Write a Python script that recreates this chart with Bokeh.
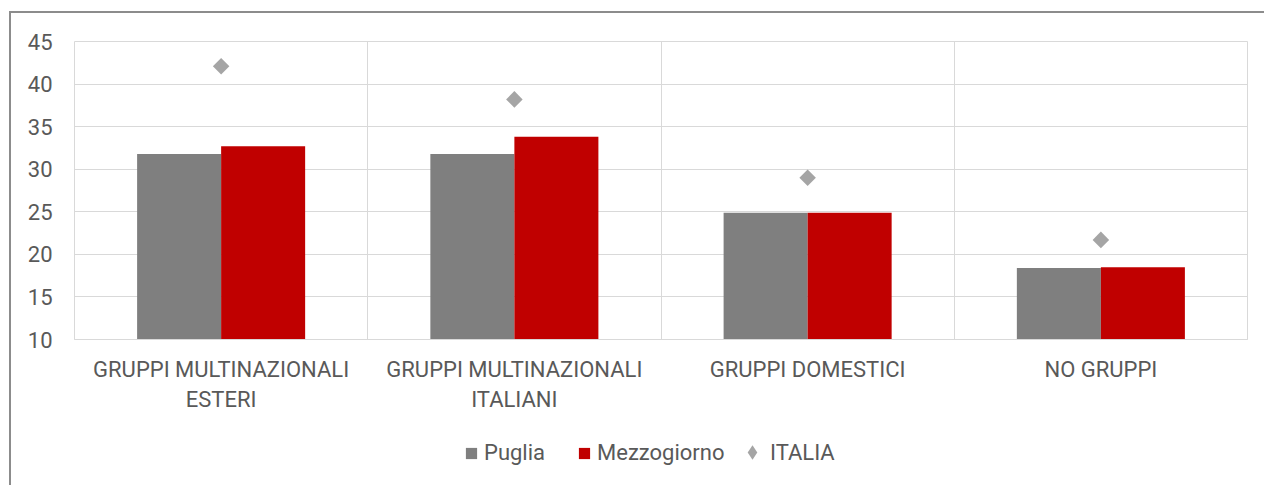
from bokeh.plotting import figure
from bokeh.models import Range1d, FixedTicker, Legend, LegendItem
from bokeh.layouts import column
from bokeh.embed import file_html
from bokeh.resources import INLINE
import numpy as np

categories = ["GRUPPI MULTINAZIONALI\nESTERI", "GRUPPI MULTINAZIONALI\nITALIANI",
              "GRUPPI DOMESTICI", "NO GRUPPI"]
series = ["Puglia", "Mezzogiorno", "ITALIA"]
puglia = [31.8, 31.8, 24.9, 18.4]
mezzogiorno = [32.7, 33.8, 24.9, 18.5]
italia = [42.1, 38.2, 29.0, 21.7]
y_ticks = [10, 15, 20, 25, 30, 35, 40, 45]

FONT = "Roboto"
TXT = "#595959"
GRID = "#d9d9d9"
C_PUG = "#7f7f7f"
C_MEZ = "#c00000"
C_ITA = "#a5a5a5"

n = len(categories)
centers = [i + 0.5 for i in range(n)]
bw = 0.2865

p = figure(width=1253, height=417, x_range=Range1d(0, n), y_range=Range1d(10, 45),
           output_backend="svg", toolbar_location=None,
           min_border_left=63, min_border_right=17, min_border_top=28, min_border_bottom=91)

p.vbar(x=[c - bw / 2 for c in centers], top=puglia, bottom=10, width=bw,
       fill_color=C_PUG, line_color=None)
p.vbar(x=[c + bw / 2 for c in centers], top=mezzogiorno, bottom=10, width=bw,
       fill_color=C_MEZ, line_color=None)
p.scatter(x=centers, y=italia, marker="square", size=11.7, angle=np.pi / 4,
          fill_color=C_ITA, line_color=None)

p.outline_line_color = GRID
p.background_fill_color = "white"
p.border_fill_color = "white"

p.yaxis.ticker = FixedTicker(ticks=y_ticks)
p.yaxis.axis_line_color = None
p.yaxis.major_tick_line_color = None
p.yaxis.minor_tick_line_color = None
p.yaxis.major_label_text_font = FONT
p.yaxis.major_label_text_font_size = "22px"
p.yaxis.major_label_text_color = TXT
p.yaxis.major_label_standoff = 16

p.xaxis.ticker = FixedTicker(ticks=centers)
p.xaxis.major_label_overrides = {c: lab for c, lab in zip(centers, categories)}
p.xaxis.axis_line_color = GRID
p.xaxis.major_tick_line_color = None
p.xaxis.minor_tick_line_color = None
p.xaxis.major_label_text_font = FONT
p.xaxis.major_label_text_font_size = "22px"
p.xaxis.major_label_text_color = TXT
p.xaxis.major_label_text_line_height = 1.2
p.xaxis.major_label_standoff = 11

p.xgrid.ticker = FixedTicker(ticks=list(range(n + 1)))
p.xgrid.grid_line_color = GRID
p.ygrid.grid_line_color = GRID

# legend strip: a separate figure whose hidden renderers carry the legend styling
pl = figure(width=1253, height=55, x_range=Range1d(0, n), y_range=Range1d(10, 45),
            output_backend="svg", toolbar_location=None,
            x_axis_location=None, y_axis_location=None,
            min_border_left=0, min_border_right=0, min_border_top=0, min_border_bottom=0)
pl.grid.visible = False
pl.outline_line_color = None
pl.border_fill_color = "white"
pl.background_fill_color = "white"
l1 = pl.vbar(x=centers, top=puglia, bottom=10, width=bw, fill_color=C_PUG,
             line_color=None, visible=False)
l2 = pl.vbar(x=centers, top=mezzogiorno, bottom=10, width=bw, fill_color=C_MEZ,
             line_color=None, visible=False)
l3 = pl.scatter(x=centers, y=italia, marker="diamond", size=14,
                fill_color=C_ITA, line_color=None, visible=False)

common = dict(orientation="horizontal", label_text_font=FONT, label_text_font_size="22px",
              label_text_color=TXT, border_line_color=None, background_fill_alpha=0,
              padding=0, margin=0)
legend_a = Legend(items=[LegendItem(label=series[0], renderers=[l1]),
                         LegendItem(label=series[1], renderers=[l2])],
                  location=(390, 20), glyph_width=14, glyph_height=14,
                  label_standoff=6, spacing=32, **common)
legend_b = Legend(items=[LegendItem(label=series[2], renderers=[l3])],
                  location=(660, 15), glyph_width=36, glyph_height=36,
                  label_standoff=-6, **common)
pl.add_layout(legend_a)
pl.add_layout(legend_b)

layout = column(p, pl, spacing=0,
                styles={"margin-left": "9px", "margin-top": "11px",
                        "border-left": "2px solid #8c8c8c", "border-top": "2px solid #8c8c8c"})

open("out.html", "w").write(file_html(layout, INLINE))
